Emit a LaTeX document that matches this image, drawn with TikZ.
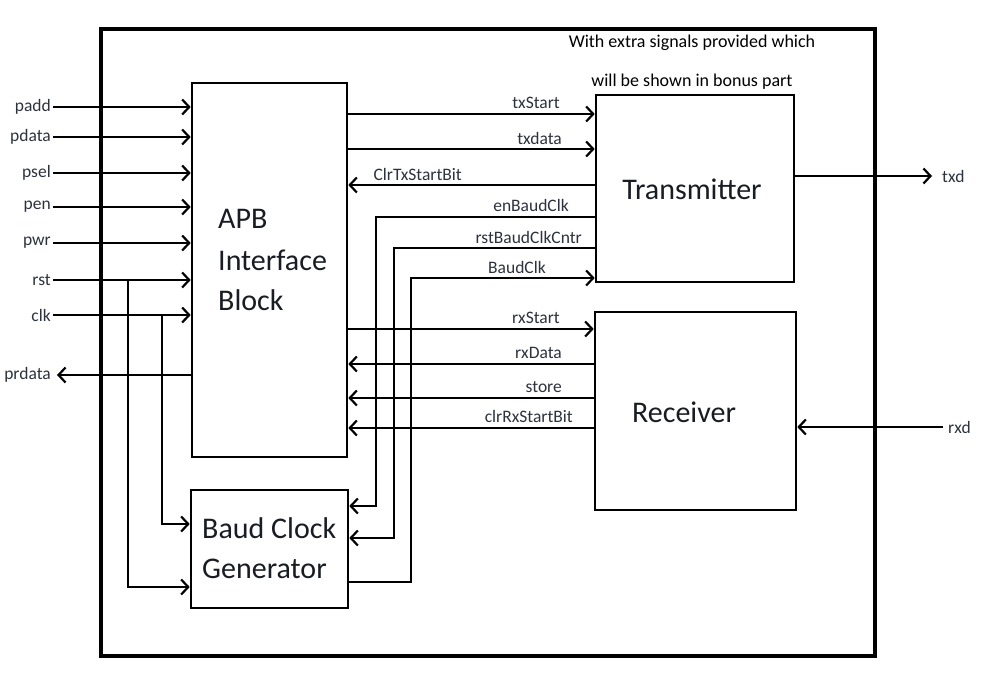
\documentclass[tikz,border=0pt]{standalone}
\usepackage{fontspec}
\setmainfont{Carlito}
\usetikzlibrary{arrows.meta}
\definecolor{labc}{RGB}{45,50,62}
\definecolor{txtc}{RGB}{25,28,35}
\begin{document}
\begin{tikzpicture}[x=1pt,y=-1pt,
  box/.style={draw, line width=2.6pt, fill=white, inner sep=0pt},
  frame/.style={draw, line width=4.5pt, inner sep=0pt},
  wire/.style={line width=2.4pt},
  arr/.style={wire, -{Straight Barb[length=7pt,width=15pt,line width=2.2pt]}},
  lab/.style={font=\fontsize{17.5}{20}\selectfont, text=labc, inner sep=0pt},
  lft/.style={lab, anchor=east, inner xsep=2pt},
  sig/.style={lab, anchor=base east},
  big/.style={font=\fontsize{30}{36}\selectfont, text=txtc, inner sep=0pt},
  note/.style={font=\fontsize{18}{22}\selectfont, inner sep=0pt, anchor=base}]
\useasboundingbox (0,0) rectangle (986,677);
\fill[white] (0,0) rectangle (986,677);

% outer frame
\node[frame, minimum width=774pt, minimum height=627pt] (frame) at (488,342.5) {};

% blocks
\node[box, minimum width=155pt, minimum height=374pt] (apb) at (269.5,270) {};
\node[box, minimum width=198pt, minimum height=187pt] (tx) at (695,188.5) {};
\node[box, minimum width=201pt, minimum height=198pt] (rx) at (695.5,411) {};
\node[box, minimum width=157pt, minimum height=118pt] (baud) at (269.5,549) {};

% block texts
\node[big, anchor=base west] (apbA) at (218,228) {APB};
\node[big, anchor=base west] (apbB) at (218,270) {Interface};
\node[big, anchor=base west] (apbC) at (218,310) {Block};
\node[big, anchor=base] (txt) at (692,199) {Transmitter};
\node[big, anchor=base] (rxt) at (684,422) {Receiver};
\node[big, anchor=base west] (baudA) at (202,538) {Baud Clock};
\node[big, anchor=base west] (baudB) at (202,578) {Generator};

% note
\node[note] (note1) at (692,48) {With extra signals provided which};
\node[note] (note2) at (692,87) {will be shown in bonus part};

% left inputs
\node[lft] (padd) at (53,107) {padd};
\node[lft] (pdata) at (53,137) {pdata};
\node[lft] (psel) at (53,173) {psel};
\node[lft] (pen) at (53,207) {pen};
\node[lft] (pwr) at (53,243) {pwr};
\node[lft] (rst) at (53,280) {rst};
\node[lft] (clk) at (53,315) {clk};
\node[lft] (prdata) at (53,375) {prdata};
\foreach \n in {padd,pdata,psel,pen,pwr,rst,clk}
  \draw[arr] (\n.east) -- (\n.east -| apb.west);
\draw[arr] (prdata.east -| apb.west) -- ([xshift=4pt]prdata.east);

\coordinate (rstj) at (128,280);
\coordinate (clkj) at (162,315);
\draw[arr] (rstj) |- (baud.west |- 0,587);
\draw[arr] (clkj) |- (baud.west |- 0,524);

% APB <-> Transmitter
\node[sig] (ltxstart) at (560,109) {txStart};
\node[sig] (ltxdata) at (562,144) {txdata};
\node[sig] (lclrtx) at (462,180) {ClrTxStartBit};
\node[sig] (lenbaud) at (569,211) {enBaudClk};
\node[sig] (lrstbaud) at (582,243) {rstBaudClkCntr};
\node[sig] (lbaudclk) at (546,273) {BaudClk};
\draw[arr] (apb.east |- 0,114) -- (tx.west |- 0,114);
\draw[arr] (apb.east |- 0,149) -- (tx.west |- 0,149);
\draw[arr] (tx.west |- 0,185) -- (apb.east |- 0,185);
\draw[arr] (tx.west |- 0,217) -| (376,506) -- (baud.east |- 0,506);
\draw[arr] (tx.west |- 0,248) -| (394,538) -- (baud.east |- 0,538);
\draw[arr] (baud.east |- 0,582) -| (411,278) -- (tx.west |- 0,278);

% APB <-> Receiver
\node[sig] (lrxstart) at (560,323) {rxStart};
\node[sig] (lrxdata) at (562,358) {rxData};
\node[sig] (lstore) at (562,392) {store};
\node[sig] (lclrrx) at (573,422) {clrRxStartBit};
\draw[arr] (apb.east |- 0,329) -- (rx.west |- 0,329);
\draw[arr] (rx.west |- 0,364) -- (apb.east |- 0,364);
\draw[arr] (rx.west |- 0,398) -- (apb.east |- 0,398);
\draw[arr] (rx.west |- 0,428) -- (apb.east |- 0,428);

% external serial lines
\node[lab, anchor=west] (txd) at (942,176) {txd};
\node[lab, anchor=west] (rxd) at (948,427) {rxd};
\draw[arr] (tx.east |- 0,176) -- ([xshift=-10pt]txd.west |- 0,176);
\draw[arr] ([xshift=-5pt]rxd.west |- 0,427) -- (rx.east |- 0,427);
\end{tikzpicture}
\end{document}
